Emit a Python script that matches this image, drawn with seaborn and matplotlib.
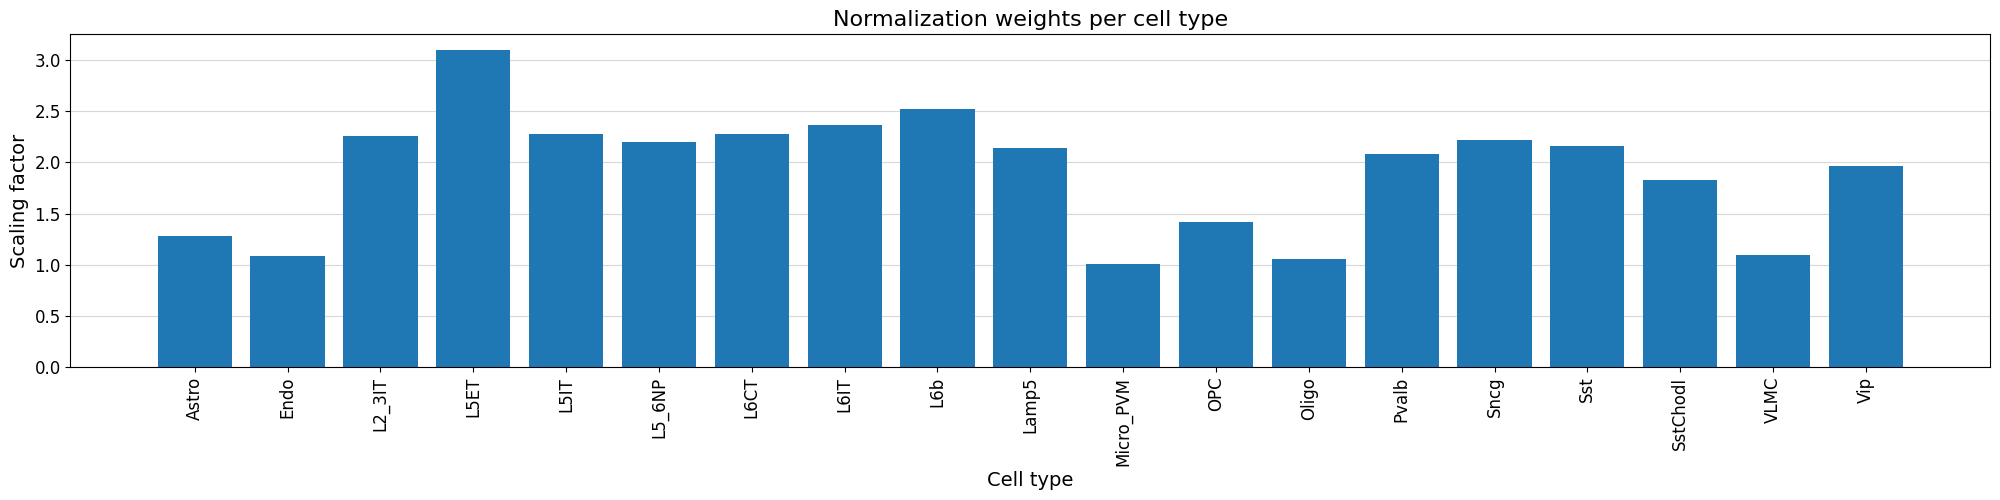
import numpy as np
import pandas as pd
import matplotlib
matplotlib.use("Agg")
import matplotlib.pyplot as plt
import seaborn as sns

# Cell types and their normalization weights
cell_types = ["Astro", "Endo", "L2_3IT", "L5ET", "L5IT", "L5_6NP", "L6CT", "L6IT",
              "L6b", "Lamp5", "Micro_PVM", "OPC", "Oligo", "Pvalb", "Sncg", "Sst",
              "SstChodl", "VLMC", "Vip"]
weights = [1.283, 1.088, 2.26, 3.10, 2.28, 2.20, 2.28, 2.368,
           2.524, 2.143, 1.01, 1.42, 1.059, 2.085, 2.22, 2.163,
           1.83, 1.098, 1.967]

df = pd.DataFrame({"cell_type": cell_types, "weight": weights})

fig, ax = plt.subplots(figsize=(20, 5), dpi=100)
sns.barplot(data=df, x="cell_type", y="weight", color="#1f77b4",
            saturation=1, width=0.8, ax=ax)

# matplotlib-style x margins instead of seaborn's tight categorical limits
n = len(cell_types)
pad = 0.05 * (n - 1 + 0.8)
ax.set_xlim(-0.4 - pad, n - 1 + 0.4 + pad)

ax.set_title("Normalization weights per cell type", fontsize=16)
ax.set_xlabel("Cell type", fontsize=14)
ax.set_ylabel("Scaling factor", fontsize=14)
ax.tick_params(axis="x", labelrotation=90, labelsize=12)
ax.tick_params(axis="y", labelsize=12)
ax.grid(axis="y", alpha=0.5)
ax.set_axisbelow(True)

plt.tight_layout(pad=0.7)
plt.savefig("out.png")
